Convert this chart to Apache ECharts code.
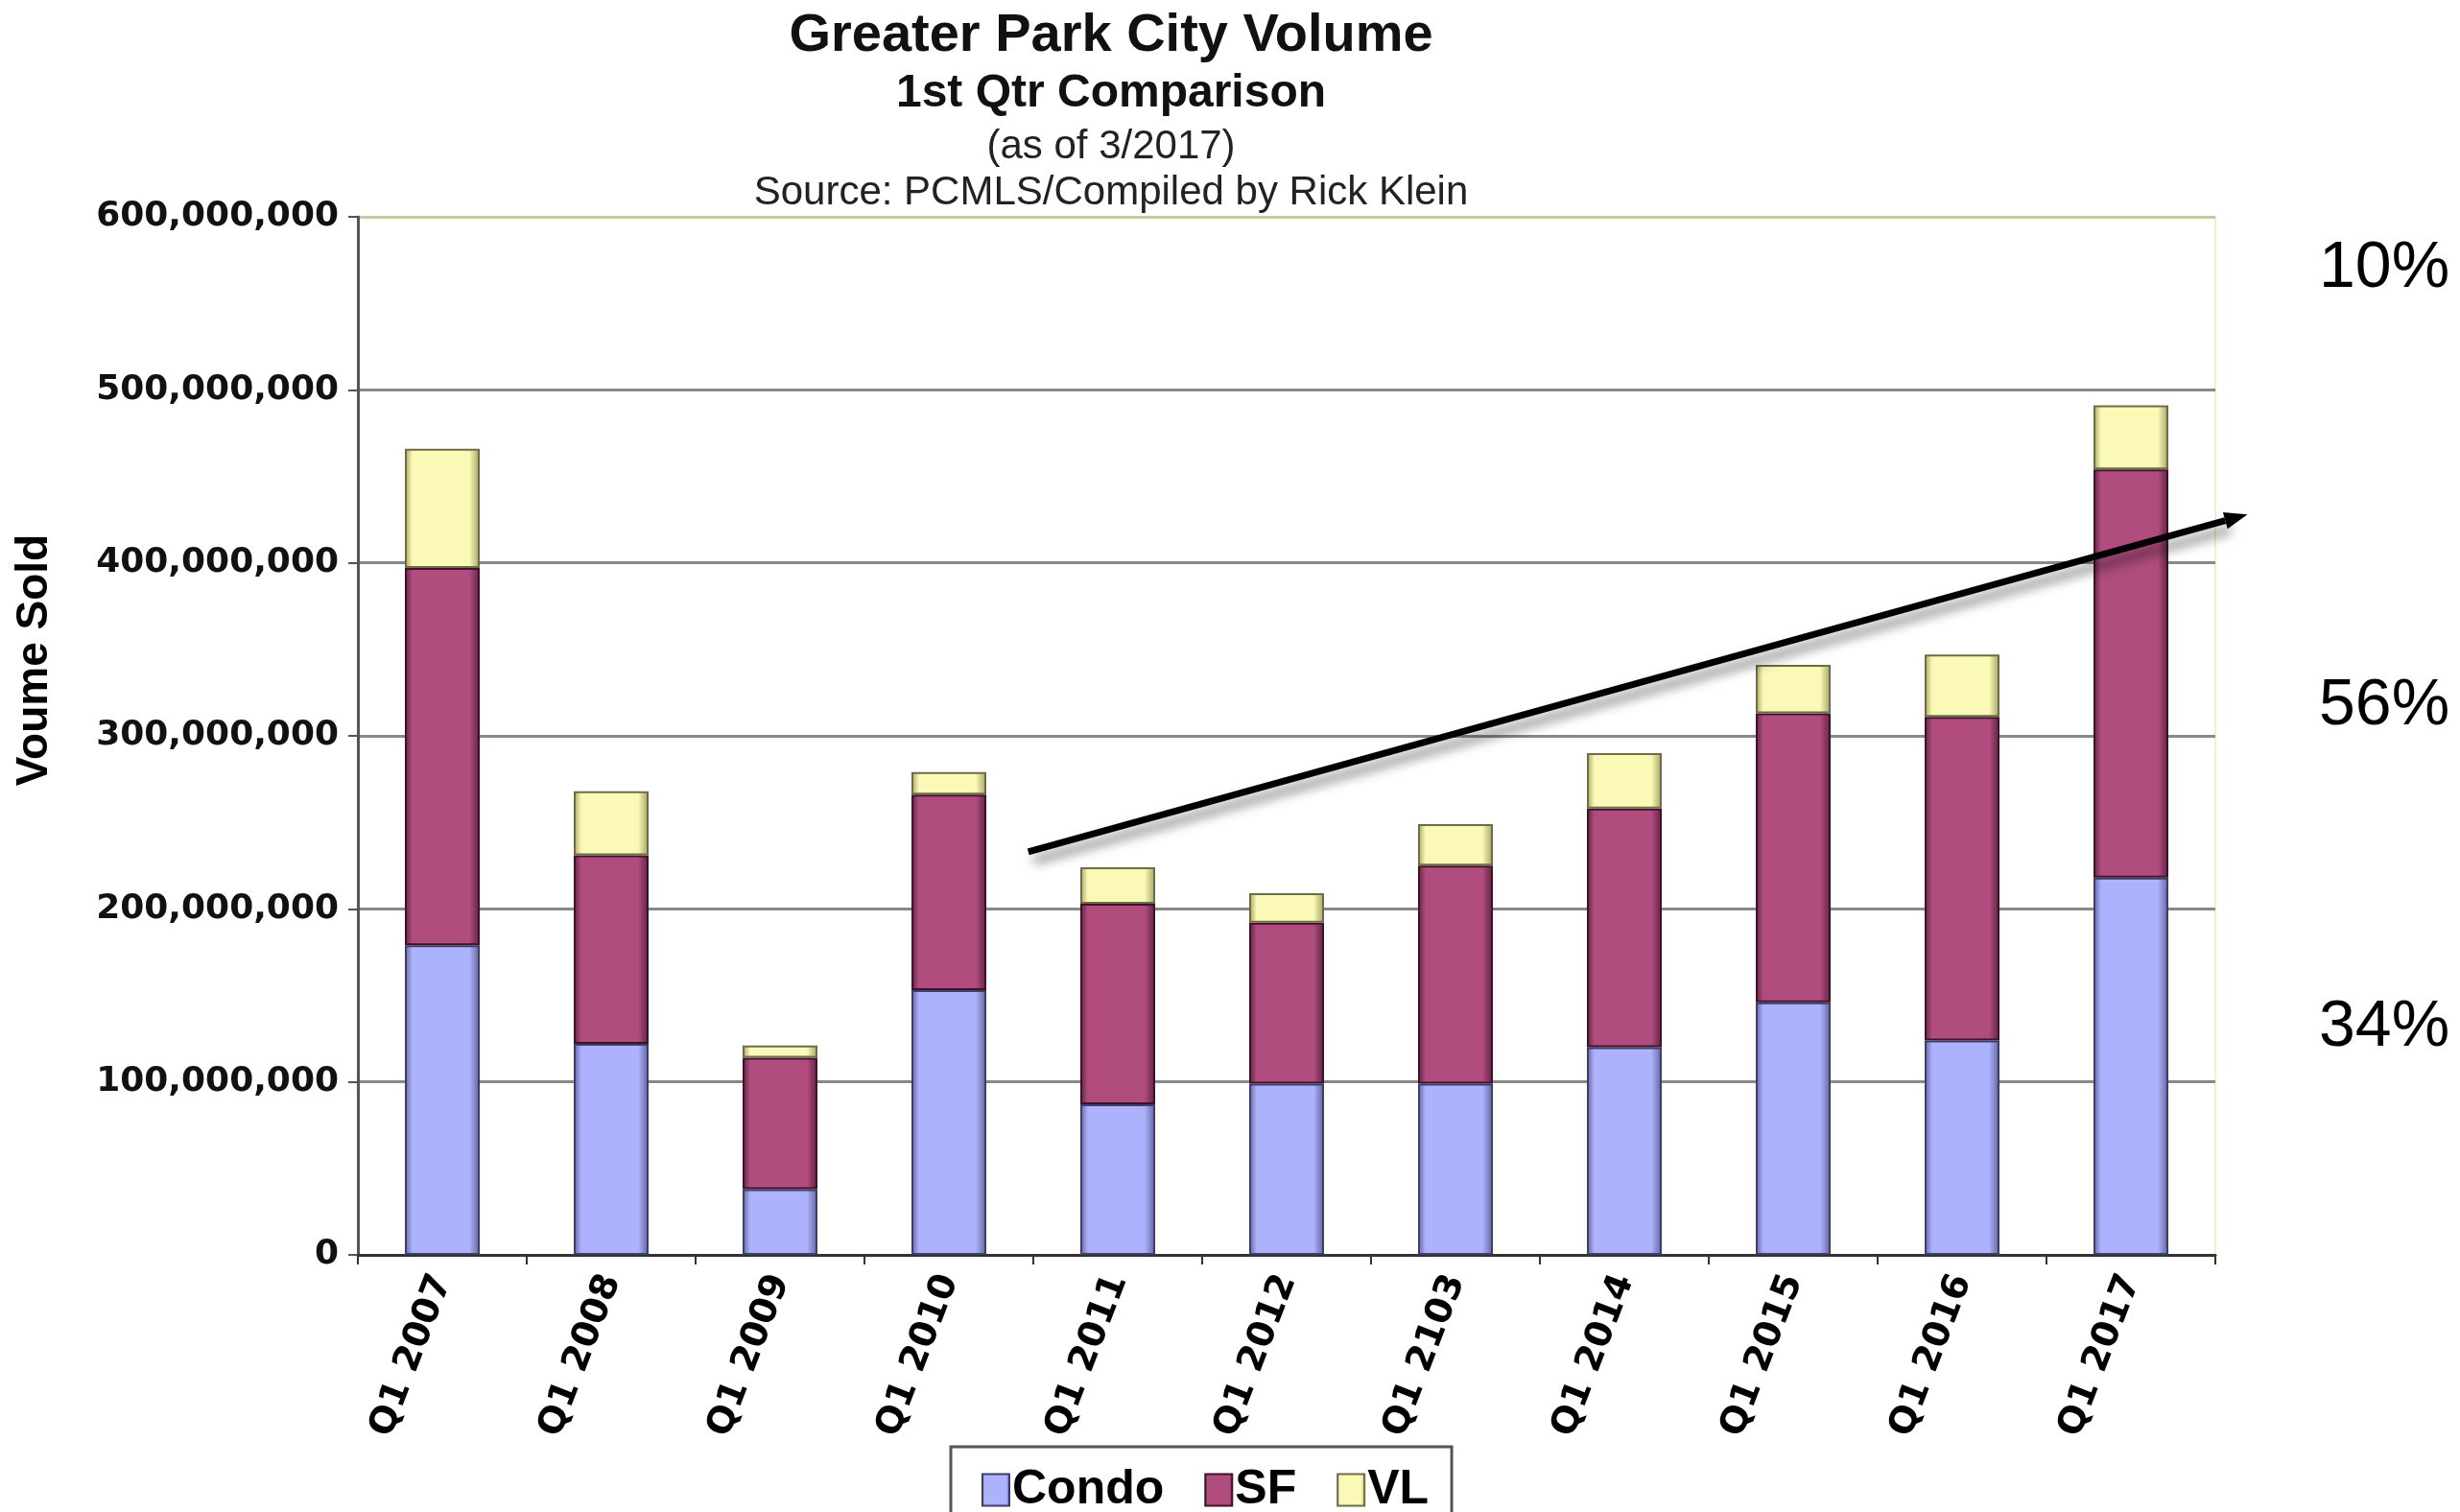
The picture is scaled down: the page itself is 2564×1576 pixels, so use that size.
<!DOCTYPE html>
<html>
<head>
<meta charset="utf-8">
<script src="https://cdn.jsdelivr.net/npm/echarts@6/dist/echarts.min.js"></script>
<style>
  html, body { margin: 0; padding: 0; background: #fff; }
  #chart { width: 2564px; height: 1576px; }
</style>
</head>
<body>
<div id="chart"></div>
<script>
// data (dollars)
const quarters = ["Q1 2007", "Q1 2008", "Q1 2009", "Q1 2010", "Q1 2011", "Q1 2012", "Q1 2103", "Q1 2014", "Q1 2015", "Q1 2016", "Q1 2017"];
const condo = [179000000, 122000000, 38000000, 153000000, 87000000, 99000000, 99000000, 120000000, 146000000, 124000000, 218000000];
const sf = [218000000, 109000000, 76000000, 113000000, 116000000, 93000000, 126000000, 138000000, 167000000, 187000000, 236000000];
const vl = [69000000, 37000000, 7000000, 13000000, 21000000, 17000000, 24000000, 32000000, 28000000, 36000000, 37000000];
const shareLabels = ["10%", "56%", "34%"];
// trend arrow, in (category index, value) space
const arrowFrom = [3.47, 233000000];
const arrowTo = [10.69, 428000000];

function bevel(light, dark) {
  return {
    type: "linear", x: 0, y: 0, x2: 1, y2: 0,
    colorStops: [
      { offset: 0, color: dark },
      { offset: 0.1, color: light },
      { offset: 0.86, color: light },
      { offset: 1, color: dark }
    ]
  };
}

let chart = echarts.init(document.getElementById("chart"));

let barBase = {
  type: "bar",
  stack: "total",
  barWidth: 78
};

let option = {
  backgroundColor: "#fff",
  animation: false,
  title: [
    { text: "Greater Park City Volume", left: 1158, top: 10, textAlign: "center", padding: 0,
      textStyle: { fontFamily: "Liberation Sans", fontWeight: "bold", fontSize: 56, color: "#111" } },
    { text: "1st Qtr Comparison", left: 1158, top: 74, textAlign: "center", padding: 0,
      textStyle: { fontFamily: "Liberation Sans", fontWeight: "bold", fontSize: 48, color: "#111" } },
    { text: "(as of 3/2017)", left: 1158, top: 132, textAlign: "center", padding: 0,
      textStyle: { fontFamily: "Liberation Sans", fontWeight: "normal", fontSize: 42, color: "#222" } },
    { text: "Source: PCMLS/Compiled by Rick Klein", left: 1158, top: 180, textAlign: "center", padding: 0,
      textStyle: { fontFamily: "Liberation Sans", fontWeight: "normal", fontSize: 42, color: "#222" } }
  ],
  legend: {
    left: 991,
    top: 1508,
    padding: [20, 24, 60, 32],
    itemGap: 42,
    itemWidth: 28,
    itemHeight: 33,
    borderColor: "#555",
    borderWidth: 3,
    backgroundColor: "#fff",
    icon: "rect",
    textStyle: { fontFamily: "Liberation Sans", fontWeight: "bold", fontSize: 50, color: "#000", padding: [0, 0, 0, -2] },
    data: ["Condo", "SF", "VL"]
  },
  grid: {
    left: 373,
    right: 255,
    top: 226,
    bottom: 268,
    show: true,
    borderColor: "#f2f2c8",
    borderWidth: 2
  },
  xAxis: {
    type: "category",
    data: quarters,
    axisLine: { lineStyle: { color: "#333", width: 3 } },
    axisTick: { show: true, length: 10, lineStyle: { color: "#333", width: 2 } },
    axisLabel: {
      rotate: 69,
      margin: 22,
      fontFamily: "DejaVu Sans",
      fontWeight: "bold",
      fontSize: 38,
      color: "#000"
    }
  },
  yAxis: {
    type: "value",
    min: 0,
    max: 600000000,
    interval: 100000000,
    axisLine: { show: true, lineStyle: { color: "#555", width: 3 } },
    axisTick: { show: true, length: 10, lineStyle: { color: "#555", width: 2 } },
    axisLabel: {
      margin: 20,
      fontFamily: "DejaVu Sans",
      fontWeight: "bold",
      fontSize: 36,
      color: "#111",
      formatter: v => v.toLocaleString("en-US")
    },
    splitLine: {
      lineStyle: {
        color: ["#888", "#888", "#888", "#888", "#888", "#888", "#c9c9a6"],
        width: 3
      }
    }
  },
  series: [
    Object.assign({}, barBase, {
      name: "Condo",
      data: condo,
      itemStyle: { color: bevel("#adb2fc", "#5f639e"), borderColor: "#3c3e66", borderWidth: 2 }
    }),
    Object.assign({}, barBase, {
      name: "SF",
      data: sf,
      itemStyle: { color: bevel("#b04d7e", "#5e2241"), borderColor: "#3e1229", borderWidth: 2 }
    }),
    Object.assign({}, barBase, {
      name: "VL",
      data: vl,
      itemStyle: { color: bevel("#fbf9b6", "#a4a264"), borderColor: "#6e6c48", borderWidth: 2 }
    })
  ]
};

chart.setOption(option);

// trend arrow and share labels, placed through the chart's own scales
function toPixel(pt) {
  let x0 = chart.convertToPixel({ xAxisIndex: 0 }, 0);
  let x1 = chart.convertToPixel({ xAxisIndex: 0 }, 1);
  let y = chart.convertToPixel({ yAxisIndex: 0 }, pt[1]);
  return [x0 + (x1 - x0) * pt[0], y];
}

let a = toPixel(arrowFrom);
let b = toPixel(arrowTo);
let ang = Math.atan2(b[1] - a[1], b[0] - a[0]);
let headLen = 24, headW = 9;
let tip = b;
let base = [b[0] - headLen * Math.cos(ang), b[1] - headLen * Math.sin(ang)];
let head = [
  tip,
  [base[0] + headW * Math.sin(ang), base[1] - headW * Math.cos(ang)],
  [base[0] - headW * Math.sin(ang), base[1] + headW * Math.cos(ang)]
];

let shareY = [283, 739, 1074];

chart.setOption({
  graphic: [
    {
      type: "line",
      z: 100,
      shape: { x1: a[0], y1: a[1], x2: base[0], y2: base[1] },
      style: {
        stroke: "#000",
        lineWidth: 7,
        shadowBlur: 12,
        shadowColor: "rgba(0,0,0,0.5)",
        shadowOffsetX: 6,
        shadowOffsetY: 9
      }
    },
    {
      type: "polygon",
      z: 100,
      shape: { points: head },
      style: { fill: "#000" }
    },
    {
      // y axis title
      type: "text",
      x: 36,
      y: 688,
      rotation: Math.PI / 2,
      style: {
        text: "Voume Sold",
        fontFamily: "Liberation Sans",
        fontWeight: "bold",
        fontSize: 46,
        fill: "#000",
        align: "center",
        verticalAlign: "middle"
      }
    }
  ].concat(shareLabels.map((t, i) => ({
    type: "text",
    left: 2417,
    top: shareY[i] - 37,
    style: { text: t, fontFamily: "Liberation Sans", fontSize: 68, fill: "#000" }
  })))
});
</script>
</body>
</html>
